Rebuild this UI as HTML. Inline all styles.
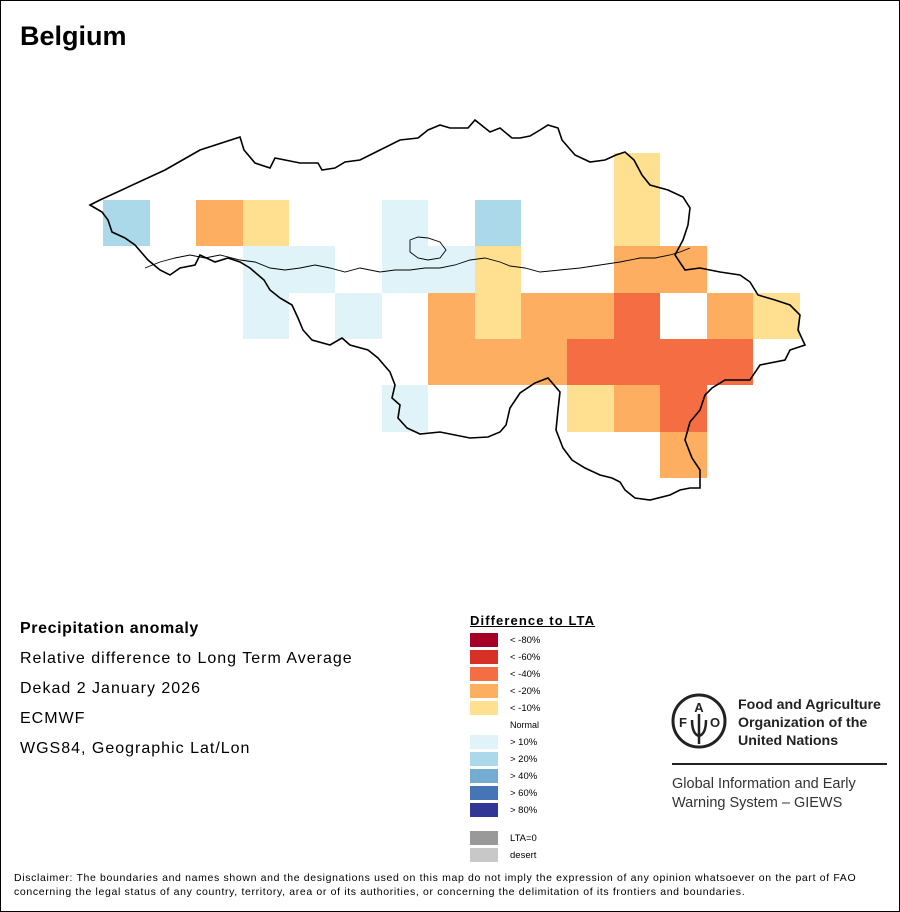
<!DOCTYPE html><html><head><style>
body{margin:0;width:900px;height:912px;overflow:hidden;font-family:"Liberation Sans",Arial,sans-serif;background:#fff}
#f{position:absolute;left:0;top:0;width:898px;height:910px;border:1px solid #000}
.t{position:absolute;white-space:nowrap;color:#000}
.b{position:absolute;left:470px;width:28px;height:14px}
.l{position:absolute;left:510px;font-size:9.5px}
.m{letter-spacing:1px}
</style></head><body><div id="f"></div>
<div class="t" style="left:20px;top:21px;font-size:27px;font-weight:bold">Belgium</div>
<svg style="position:absolute;left:0;top:0" width="900" height="912">
<g shape-rendering="crispEdges">
<rect x="614" y="153" width="46" height="47" fill="#fee090"/>
<rect x="103" y="200" width="47" height="46" fill="#abd9e9"/>
<rect x="196" y="200" width="47" height="46" fill="#fdae61"/>
<rect x="243" y="200" width="46" height="46" fill="#fee090"/>
<rect x="382" y="200" width="46" height="46" fill="#e0f3f8"/>
<rect x="475" y="200" width="46" height="46" fill="#abd9e9"/>
<rect x="614" y="200" width="46" height="46" fill="#fee090"/>
<rect x="243" y="246" width="92" height="47" fill="#e0f3f8"/>
<rect x="382" y="246" width="93" height="47" fill="#e0f3f8"/>
<rect x="475" y="246" width="46" height="47" fill="#fee090"/>
<rect x="614" y="246" width="93" height="47" fill="#fdae61"/>
<rect x="243" y="293" width="46" height="46" fill="#e0f3f8"/>
<rect x="335" y="293" width="47" height="46" fill="#e0f3f8"/>
<rect x="428" y="293" width="47" height="46" fill="#fdae61"/>
<rect x="475" y="293" width="46" height="46" fill="#fee090"/>
<rect x="521" y="293" width="93" height="46" fill="#fdae61"/>
<rect x="614" y="293" width="46" height="46" fill="#f46d43"/>
<rect x="707" y="293" width="46" height="46" fill="#fdae61"/>
<rect x="753" y="293" width="47" height="46" fill="#fee090"/>
<rect x="428" y="339" width="139" height="46" fill="#fdae61"/>
<rect x="567" y="339" width="186" height="46" fill="#f46d43"/>
<rect x="382" y="385" width="46" height="47" fill="#e0f3f8"/>
<rect x="567" y="385" width="47" height="47" fill="#fee090"/>
<rect x="614" y="385" width="46" height="47" fill="#fdae61"/>
<rect x="660" y="385" width="47" height="47" fill="#f46d43"/>
<rect x="660" y="432" width="47" height="46" fill="#fdae61"/>
</g>
<path fill="none" stroke="#000" stroke-width="1.6" d="M90,205 L100,200 L165,170 L200,150 L240,137 L244,150 L255,163 L270,168 L275,158 L285,160 L300,163 L318,163 L322,170 L335,168 L345,162 L360,160 L380,150 L400,140 L418,138 L428,130 L440,125 L450,128 L468,128 L475,120 L490,132 L500,128 L512,138 L520,138 L530,136 L540,130 L548,125 L558,128 L562,140 L575,155 L590,162 L605,160 L616,155 L625,152 L634,160 L642,175 L650,185 L668,190 L683,197 L690,208 L688,225 L683,240 L675,255 L685,270 L700,268 L720,272 L740,275 L750,282 L758,295 L775,300 L790,305 L800,315 L798,330 L805,345 L790,350 L785,360 L760,365 L750,380 L725,380 L712,388 L705,395 L700,410 L690,422 L685,440 L692,458 L700,470 L700,488 L690,488 L680,490 L670,495 L650,500 L635,498 L625,490 L620,482 L612,478 L600,475 L585,468 L572,460 L563,448 L556,430 L558,410 L560,392 L548,378 L535,383 L520,393 L510,408 L506,425 L500,432 L488,437 L470,438 L455,435 L440,432 L420,434 L407,428 L398,418 L400,405 L392,398 L395,385 L390,372 L378,358 L368,350 L350,345 L342,338 L330,345 L312,340 L303,330 L298,318 L292,305 L280,298 L270,290 L264,280 L250,268 L240,262 L228,258 L215,262 L200,255 L195,265 L180,268 L170,275 L160,270 L148,260 L135,245 L125,238 L112,232 L108,220 L102,212 Z"/>
<path fill="none" stroke="#000" stroke-width="0.9" d="M145,268 L160,262 L175,258 L190,255 L205,258 L220,255 L240,260 L255,262 L270,268 L285,270 L300,268 L315,265 L330,268 L345,272 L360,268 L380,272 L395,270 L410,270 L425,268 L440,268 L455,265 L470,260 L485,258 L500,262 L510,266 L525,268 L540,272 L560,270 L580,268 L600,265 L620,262 L640,258 L655,258 L670,255 L680,252 L690,248"/>
<path fill="none" stroke="#000" stroke-width="0.9" d="M410,240 L418,237 L428,238 L440,242 L446,250 L440,258 L428,260 L418,258 L410,252 Z"/>
</svg>
<div class="t m" style="left:20px;top:620px;font-size:16px;font-weight:bold;letter-spacing:0.6px">Precipitation anomaly</div>
<div class="t m" style="left:20px;top:650px;font-size:16px">Relative difference to Long Term Average</div>
<div class="t m" style="left:20px;top:680px;font-size:16px">Dekad 2 January 2026</div>
<div class="t m" style="left:20px;top:710px;font-size:16px">ECMWF</div>
<div class="t m" style="left:20px;top:740px;font-size:16px">WGS84, Geographic Lat/Lon</div>
<div class="t" style="left:470px;top:613px;font-size:13px;font-weight:bold;text-decoration:underline;letter-spacing:1.1px">Difference to LTA</div>
<div class="b" style="top:633px;background:#a50026"></div><div class="l t" style="top:635px">&lt; -80%</div>
<div class="b" style="top:650px;background:#d73027"></div><div class="l t" style="top:652px">&lt; -60%</div>
<div class="b" style="top:667px;background:#f46d43"></div><div class="l t" style="top:669px">&lt; -40%</div>
<div class="b" style="top:684px;background:#fdae61"></div><div class="l t" style="top:686px">&lt; -20%</div>
<div class="b" style="top:701px;background:#fee090"></div><div class="l t" style="top:703px">&lt; -10%</div>
<div class="l t" style="top:720px;font-size:9px">Normal</div>
<div class="b" style="top:735px;background:#e0f3f8"></div><div class="l t" style="top:737px">&gt; 10%</div>
<div class="b" style="top:752px;background:#abd9e9"></div><div class="l t" style="top:754px">&gt; 20%</div>
<div class="b" style="top:769px;background:#74add1"></div><div class="l t" style="top:771px">&gt; 40%</div>
<div class="b" style="top:786px;background:#4575b4"></div><div class="l t" style="top:788px">&gt; 60%</div>
<div class="b" style="top:803px;background:#313695"></div><div class="l t" style="top:805px">&gt; 80%</div>
<div class="b" style="top:831px;background:#999"></div><div class="l t" style="top:833px">LTA=0</div>
<div class="b" style="top:848px;background:#c8c8c8"></div><div class="l t" style="top:850px">desert</div>
<svg style="position:absolute;left:670px;top:692px" width="60" height="60">
<circle cx="29" cy="29" r="26" fill="none" stroke="#222" stroke-width="3"/>
<text x="29" y="20" font-size="13" font-weight="bold" text-anchor="middle" fill="#222" font-family="Liberation Sans">A</text>
<text x="13" y="35" font-size="13" font-weight="bold" text-anchor="middle" fill="#222" font-family="Liberation Sans">F</text>
<text x="45" y="35" font-size="13" font-weight="bold" text-anchor="middle" fill="#222" font-family="Liberation Sans">O</text>
<path d="M29,22 L29,52 M22,28 Q22,42 29,44 Q36,42 36,28" fill="none" stroke="#222" stroke-width="2.5"/>
</svg>
<div class="t" style="left:738px;top:696px;font-size:14.2px;font-weight:bold;line-height:18px;color:#222">Food and Agriculture<br>Organization of the<br>United Nations</div>
<div style="position:absolute;left:672px;top:763px;width:215px;height:2px;background:#222"></div>
<div class="t" style="left:672px;top:775px;font-size:14.5px;line-height:19px;color:#333">Global Information and Early<br>Warning System – GIEWS</div>
<div class="t" style="left:14px;top:871px;font-size:10.5px;line-height:14px;letter-spacing:0.65px">Disclaimer: The boundaries and names shown and the designations used on this map do not imply the expression of any opinion whatsoever on the part of FAO<br>concerning the legal status of any country, territory, area or of its authorities, or concerning the delimitation of its frontiers and boundaries.</div>
</body></html>
